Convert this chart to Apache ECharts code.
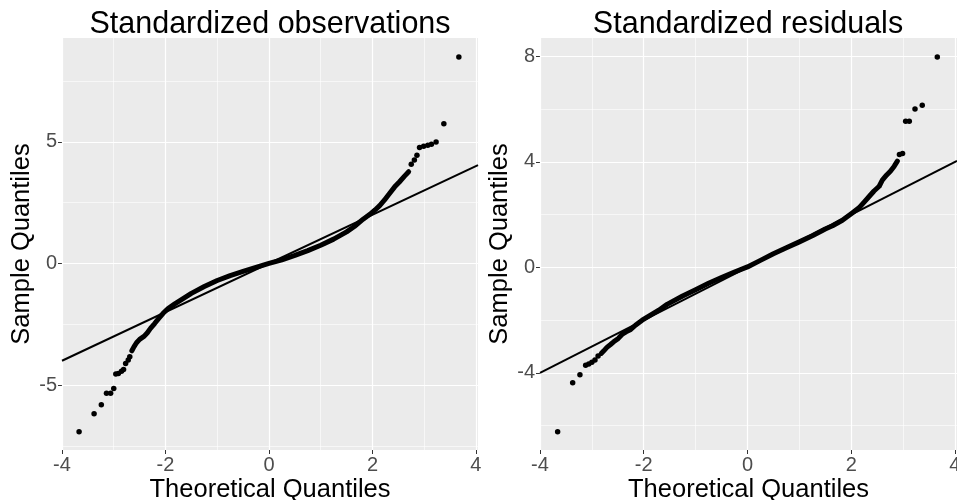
<!DOCTYPE html>
<html>
<head>
<meta charset="utf-8">
<script src="https://cdn.jsdelivr.net/npm/echarts@6/dist/echarts.min.js"></script>
<style>
  html, body { margin: 0; padding: 0; background: #fff; }
  #chart { width: 957px; height: 500px; }
</style>
</head>
<body>
<div id="chart"></div>
<script>
// tick labels and minor grid positions
var xTicks = [-4, -2, 0, 2, 4];
var xMinor = [-3, -1, 1, 3];
var obsYTicks = [-5, 0, 5];
var obsYMinor = [-7.5, -2.5, 2.5, 7.5];
var resYTicks = [-4, 0, 4, 8];
var resYMinor = [-6, -2, 2, 6];

// reference line y = x, drawn across the panel
var refX = [-4, 4.04];

// standardized observations: sparse tails and dense middle
var obsLow = [[-3.67, -6.92], [-3.38, -6.18], [-3.24, -5.81], [-3.14, -5.34], [-3.06, -5.34],
  [-3.00, -5.14], [-2.96, -4.55], [-2.91, -4.52], [-2.85, -4.43], [-2.81, -4.36],
  [-2.77, -4.11], [-2.72, -3.97], [-2.69, -3.84]];
var obsBody = [[-2.65, -3.59], [-2.61, -3.43], [-2.56, -3.26], [-2.50, -3.12], [-2.41, -2.99],
  [-2.35, -2.85], [-2.29, -2.67], [-2.21, -2.47], [-2.13, -2.26], [-2.05, -2.06],
  [-1.95, -1.85], [-1.82, -1.66], [-1.66, -1.45], [-1.5, -1.23], [-1.25, -0.95],
  [-1.0, -0.70], [-0.75, -0.50], [-0.5, -0.33], [-0.25, -0.16], [0, 0],
  [0.25, 0.15], [0.5, 0.33], [0.75, 0.53], [1.0, 0.75], [1.25, 1.0],
  [1.5, 1.30], [1.65, 1.52], [1.82, 1.82], [1.95, 2.02], [2.05, 2.2],
  [2.14, 2.38], [2.23, 2.6], [2.33, 2.88], [2.43, 3.15], [2.52, 3.35],
  [2.62, 3.59], [2.70, 3.77]];
var obsHigh = [[2.75, 4.08], [2.81, 4.25], [2.86, 4.45], [2.91, 4.77], [2.99, 4.82],
  [3.07, 4.86], [3.14, 4.90], [3.23, 4.99], [3.38, 5.74], [3.67, 8.49]];

// standardized residuals
var resLow = [[-3.66, -6.23], [-3.37, -4.37], [-3.23, -4.07], [-3.12, -3.71], [-3.06, -3.66],
  [-3.00, -3.59], [-2.94, -3.51], [-2.88, -3.36]];
var resBody = [[-2.82, -3.26], [-2.77, -3.16], [-2.71, -3.03], [-2.64, -2.92], [-2.58, -2.82],
  [-2.49, -2.69], [-2.42, -2.54], [-2.34, -2.44], [-2.25, -2.35], [-2.16, -2.19],
  [-2.03, -2.00], [-1.87, -1.81], [-1.71, -1.62], [-1.55, -1.40], [-1.25, -1.08],
  [-1.0, -0.84], [-0.75, -0.60], [-0.5, -0.38], [-0.25, -0.17], [0, 0.02],
  [0.25, 0.27], [0.5, 0.52], [0.75, 0.75], [1.0, 0.97], [1.25, 1.2],
  [1.5, 1.46], [1.64, 1.58], [1.83, 1.79], [2.02, 2.07], [2.15, 2.26],
  [2.25, 2.48], [2.35, 2.70], [2.44, 2.90], [2.54, 3.08], [2.60, 3.31],
  [2.68, 3.50], [2.76, 3.66], [2.83, 3.84], [2.89, 4.03]];
var resHigh = [[2.93, 4.28], [2.99, 4.32], [3.05, 5.54], [3.12, 5.54], [3.23, 6.01],
  [3.37, 6.15], [3.66, 7.98]];

var font = 'Liberation Sans, Arial, sans-serif';

function xAxisFor(grid) {
  return {
    type: 'value', gridIndex: grid, min: -4, max: 4.04,
    name: 'Theoretical Quantiles', nameLocation: 'middle', nameGap: 27, nameMoveOverlap: false,
    nameTextStyle: { fontSize: 25.5, color: '#000', fontFamily: font },
    axisLine: { show: false, onZero: false },
    axisTick: { show: true, length: 4, customValues: xTicks, lineStyle: { color: '#333', width: 1 } },
    axisLabel: { customValues: xTicks, color: '#4D4D4D', fontSize: 20, margin: 5, fontFamily: font },
    splitLine: { show: false }
  };
}
function yAxisFor(grid, min, max, ticks) {
  return {
    type: 'value', gridIndex: grid, min: min, max: max,
    name: 'Sample Quantiles', nameLocation: 'middle', nameGap: 26,
    nameTextStyle: { fontSize: 25.5, color: '#000', fontFamily: font },
    axisLine: { show: false, onZero: false },
    axisTick: { show: true, length: 4, customValues: ticks, lineStyle: { color: '#333', width: 1 } },
    axisLabel: { customValues: ticks, color: '#4D4D4D', fontSize: 20, margin: 5, fontFamily: font },
    splitLine: { show: false }
  };
}

// white panel grid lines, placed through the axes' scales
function gridLines(idx, xs, ys, width) {
  var lines = xs.map(function (v) { return { xAxis: v }; })
    .concat(ys.map(function (v) { return { yAxis: v }; }));
  return { type: 'line', xAxisIndex: idx, yAxisIndex: idx, data: [], z: 1, silent: true,
    markLine: { z: 1, symbol: 'none', silent: true, animation: false, label: { show: false },
      lineStyle: { color: '#fff', width: width, type: 'solid', opacity: 1 },
      emphasis: { disabled: true }, data: lines } };
}
function pts(data, idx) {
  return { type: 'scatter', xAxisIndex: idx, yAxisIndex: idx, data: data,
    symbolSize: 5.5, itemStyle: { color: '#000', opacity: 1 }, silent: true, z: 3 };
}
function band(data, idx) {
  return { type: 'line', xAxisIndex: idx, yAxisIndex: idx, data: data, showSymbol: false,
    lineStyle: { color: '#000', width: 5, cap: 'round', join: 'round' }, silent: true, z: 3 };
}
function refLine(idx) {
  return { type: 'line', xAxisIndex: idx, yAxisIndex: idx, showSymbol: false, clip: true,
    data: refX.map(function (x) { return [x, x]; }),
    lineStyle: { color: '#000', width: 2 }, silent: true, z: 4 };
}

var chart = echarts.init(document.getElementById('chart'));
chart.setOption({
  animation: false,
  textStyle: { fontFamily: font },
  title: [
    { text: 'Standardized observations', left: 270, top: 9, textAlign: 'center', padding: 0,
      textStyle: { fontSize: 30.5, fontWeight: 'normal', color: '#000', fontFamily: font } },
    { text: 'Standardized residuals', left: 748, top: 9, textAlign: 'center', padding: 0,
      textStyle: { fontSize: 30.5, fontWeight: 'normal', color: '#000', fontFamily: font } }
  ],
  grid: [
    { left: 62, top: 38, width: 416, height: 412, show: true, backgroundColor: '#EBEBEB', borderWidth: 0,
      outerBoundsMode: 'none' },
    { left: 540, top: 38, width: 417, height: 412, show: true, backgroundColor: '#EBEBEB', borderWidth: 0,
      outerBoundsMode: 'none' }
  ],
  xAxis: [xAxisFor(0), xAxisFor(1)],
  yAxis: [
    yAxisFor(0, -7.67, 9.27, obsYTicks),
    yAxisFor(1, -6.92, 8.7, resYTicks)
  ],
  series: [
    gridLines(0, xMinor, obsYMinor, 0.6), gridLines(0, xTicks, obsYTicks, 1.2),
    refLine(0), band(obsBody, 0), pts(obsLow, 0), pts(obsHigh, 0),
    gridLines(1, xMinor, resYMinor, 0.6), gridLines(1, xTicks, resYTicks, 1.2),
    refLine(1), band(resBody, 1), pts(resLow, 1), pts(resHigh, 1)
  ]
});
</script>
</body>
</html>
